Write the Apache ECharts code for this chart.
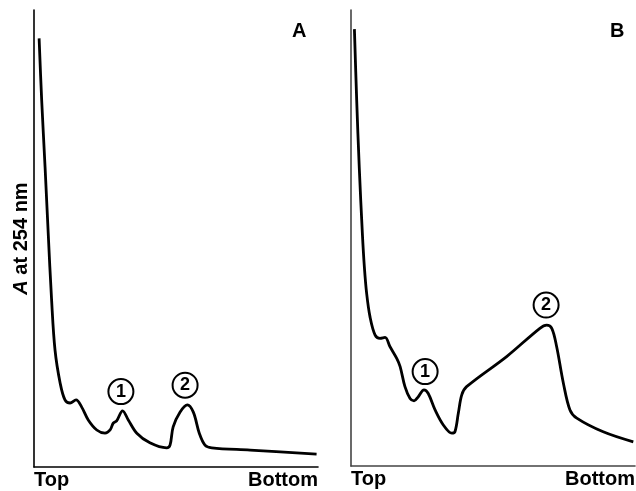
<!DOCTYPE html>
<html>
<head>
<meta charset="utf-8">
<script src="https://cdn.jsdelivr.net/npm/echarts@6/dist/echarts.min.js"></script>
<style>html,body{margin:0;padding:0;background:#fff}#c{width:636px;height:491px}</style>
</head>
<body>
<div id="c"></div>
<script>
// Panel A trace: [position (% of tube, top -> bottom), A254 (arbitrary %)]
var curveA = [
  [1.8,93.8],[2.7,80.3],[3.9,65.6],[5.0,51.2],[6.2,36.5],[7.4,25.6],[9.2,18.4],
  [10.9,14.7],[12.7,14.0],[14.8,14.7],[16.8,13.1],[19.1,10.3],[22.1,8.1],[25.0,7.4],
  [26.8,8.1],[27.9,9.6],[29.1,10.1],[31.2,12.3],[33.2,10.3],[36.2,7.4],[40.8,5.3],
  [46.7,4.2],[47.9,4.8],[49.0,8.8],[51.4,12.0],[54.0,13.6],[56.1,12.0],[58.2,7.4],
  [60.2,4.8],[62.6,4.2],[76.1,3.7],[99.5,2.8]
];
// Panel B trace
var curveB = [
  [1.2,95.8],[2.0,80.3],[2.9,65.6],[4.0,51.0],[4.7,43.7],[5.5,37.9],[6.7,32.7],
  [8.5,28.7],[10.2,28.0],[12.0,28.2],[13.7,26.2],[16.1,23.6],[17.3,21.8],[19.0,17.4],
  [20.8,14.8],[22.2,14.3],[23.7,15.2],[25.7,16.7],[27.2,15.9],[29.6,12.3],[32.5,9.0],
  [35.5,7.2],[36.6,7.5],[37.8,11.6],[39.0,15.6],[40.7,17.4],[54.8,24.0],[66.5,30.2],
  [68.9,30.9],[70.7,30.2],[72.4,26.2],[74.8,18.1],[77.1,12.3],[79.5,10.5],[88.8,7.5],
  [99.4,5.3]
];
// Peak markers: [x, y, label]
var peaksA = [[30.6,16.5,'1'],[53.2,17.9,'2']];
var peaksB = [[26.1,20.7,'1'],[68.7,35.3,'2']];
var xTickLabels = {0:'Top',100:'Bottom'};
var panelLabels = ['A','B'];
var yName = 'A at 254 nm';

var FONT = '"Liberation Sans", Arial, sans-serif';
function xAx(grid, col){
  return {type:'value', gridIndex:grid, min:0, max:100, interval:100,
    axisLine:{show:true,lineStyle:{color:col,width:1.6}},
    axisTick:{show:false}, splitLine:{show:false},
    axisLabel:{show:true, margin:3, color:'#000', fontFamily:FONT, fontWeight:'bold', fontSize:20,
      alignMinLabel:'left', alignMaxLabel:'right',
      formatter:function(v){return xTickLabels[v]||'';}}};
}
function yAx(grid, col, name){
  return {type:'value', gridIndex:grid, min:0, max:100,
    axisLine:{show:true,lineStyle:{color:col,width:1.6}},
    axisTick:{show:false}, splitLine:{show:false}, axisLabel:{show:false},
    name:name||'', nameLocation:'middle', nameRotate:90, nameGap:3,
    nameTextStyle:{color:'#000', fontFamily:FONT, fontWeight:'bold', fontSize:20,
      rich:{i:{fontStyle:'italic', fontWeight:'bold', fontSize:20, fontFamily:FONT, color:'#000'}}}};
}
function peakSeries(grid, arr){
  return {type:'scatter', xAxisIndex:grid, yAxisIndex:grid, symbol:'circle', symbolSize:25,
    itemStyle:{color:'#fff', borderColor:'#000', borderWidth:2, opacity:1},
    label:{show:true, position:'inside', color:'#000', fontFamily:FONT, fontWeight:'bold', fontSize:18,
      formatter:function(p){return p.data[2];}},
    data:arr, z:5, silent:true};
}
function lineSeries(grid, arr){
  return {type:'line', xAxisIndex:grid, yAxisIndex:grid, data:arr, smooth:0.35, showSymbol:false,
    lineStyle:{color:'#000', width:2.8}, silent:true};
}
var chart = echarts.init(document.getElementById('c'), null, {renderer:'canvas'});
chart.setOption({
  animation:false,
  backgroundColor:'#fff',
  grid:[
    {left:34, top:10, width:284, height:457, outerBoundsMode:'none'},
    {left:351, top:10, width:284, height:456, outerBoundsMode:'none'}
  ],
  xAxis:[xAx(0,'#000'), xAx(1,'#444')],
  yAxis:[yAx(0,'#000','{i|A} at 254 nm'), yAx(1,'#444')],
  graphic:[
    {type:'text', left:292, top:21, style:{text:panelLabels[0], fill:'#000', font:'bold 20px '+FONT}},
    {type:'text', left:610, top:21, style:{text:panelLabels[1], fill:'#000', font:'bold 20px '+FONT}}
  ],
  series:[
    lineSeries(0, curveA), lineSeries(1, curveB),
    peakSeries(0, peaksA), peakSeries(1, peaksB)
  ]
});
</script>
</body>
</html>
